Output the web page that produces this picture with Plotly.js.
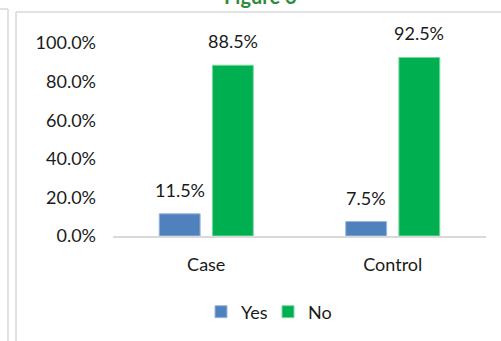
<!DOCTYPE html>
<html>
<head>
<meta charset="utf-8">
<script src="https://cdn.plot.ly/plotly-3.0.1.min.js"></script>
<style>html,body{margin:0;padding:0;background:#fff;}#chart{width:501px;height:341px;}</style>
</head>
<body>
<div id="chart"></div>
<script>
const categories = ['Case', 'Control'];
const seriesNames = ['Yes', 'No'];
const yesValues = [0.115, 0.075];
const noValues = [0.885, 0.925];
const yTickValues = [0, 0.2, 0.4, 0.6, 0.8, 1.0];
const titleText = 'Figure 6';

const colors = ['#4f81bd', '#00b050'];
const borders = ['#9db8dc', '#7fd7a3'];
const W = 501, H = 341;
const M = {l: 113, r: 15, t: 43, b: 105};
const plotW = W - M.l - M.r, plotH = H - M.t - M.b;
const bargap = 0.43, bargroupgap = 0.23;
const textColor = '#1a1a1a';
const font = 'Lato, "Open Sans", sans-serif';
const fs = 18;

const allSeries = [yesValues, noValues];
const traces = allSeries.map((vals, i) => ({
  type: 'bar',
  name: seriesNames[i],
  x: categories,
  y: vals,
  marker: {color: colors[i], line: {color: borders[i], width: 1}},
  hoverinfo: 'none'
}));

const slot = (1 - bargap) / allSeries.length;
const annotations = [];
allSeries.forEach((vals, i) => {
  const off = -(1 - bargap) / 2 + slot * (i + 0.5);
  vals.forEach((v, j) => {
    annotations.push({
      x: j + off, y: v, xref: 'x', yref: 'y',
      text: (v * 100).toFixed(1) + '%',
      showarrow: false, yanchor: 'bottom', yshift: 11,
      font: {family: font, size: fs, color: textColor}
    });
  });
});
const px2x = p => (p - M.l) / plotW;
const px2y = p => (H - M.b - p) / plotH;
annotations.push({
  xref: 'paper', yref: 'paper', x: px2x(260), y: px2y(-4),
  text: '<b>' + titleText + '</b>', showarrow: false, yanchor: 'middle',
  font: {family: font, size: 20, color: '#2e8b3e'}
});

const lineStyle = {color: '#d9d9d9', width: 1.5};
const shapes = [
  {type: 'line', xref: 'paper', yref: 'paper', x0: px2x(0), x1: px2x(8), y0: px2y(9), y1: px2y(9), line: lineStyle},
  {type: 'line', xref: 'paper', yref: 'paper', x0: px2x(8), x1: px2x(8), y0: px2y(9), y1: px2y(345), line: lineStyle},
  {type: 'line', xref: 'paper', yref: 'paper', x0: px2x(16), x1: px2x(505), y0: px2y(12), y1: px2y(12), line: lineStyle},
  {type: 'line', xref: 'paper', yref: 'paper', x0: px2x(16), x1: px2x(16), y0: px2y(12), y1: px2y(345), line: lineStyle}
];

const layout = {
  width: W, height: H,
  margin: M,
  paper_bgcolor: '#ffffff', plot_bgcolor: '#ffffff',
  barmode: 'group', bargap: bargap, bargroupgap: bargroupgap,
  font: {family: font, size: fs, color: textColor},
  showlegend: true,
  legend: {
    orientation: 'h', xref: 'container', yref: 'container',
    x: 268 / W, xanchor: 'center', y: 1 - 312 / H, yanchor: 'middle',
    entrywidth: 22, entrywidthmode: 'pixels',
    font: {family: font, size: fs, color: textColor}
  },
  xaxis: {
    type: 'category', showgrid: false, zeroline: false,
    showline: true, linecolor: '#d9d9d9', linewidth: 2,
    ticks: '', ticklabelstandoff: 11, fixedrange: true
  },
  yaxis: {
    range: [0, 1], tickvals: yTickValues, tickformat: '.1%',
    showgrid: false, zeroline: false, showline: false,
    ticks: '', ticklabelstandoff: 16, fixedrange: true
  },
  annotations: annotations,
  shapes: shapes
};

Plotly.newPlot('chart', traces, layout, {displayModeBar: false, staticPlot: true});
</script>
</body>
</html>
